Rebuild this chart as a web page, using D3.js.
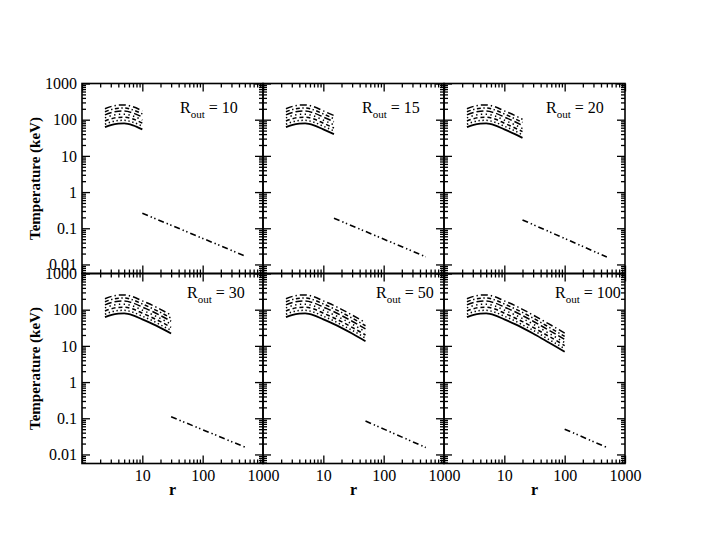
<!DOCTYPE html>
<html><head><meta charset="utf-8">
<script src="https://cdn.jsdelivr.net/npm/d3@7"></script>
<style>
body{margin:0;background:#fff}
svg{display:block;background:#fff}
text{font-family:"Liberation Serif","Times New Roman",serif;fill:#000}
</style>
</head><body>
<svg id="chart" width="708" height="547"></svg>
<script>
// ---------------- data ----------------
const radii   = [2.4, 3, 4, 5, 7, 10, 15, 20, 30, 50, 70, 100];
const series1 = [62, 71, 78, 79, 70, 54, 40, 31.5, 22, 13.5, 9.8, 6.9];
const series2 = [75, 86, 95, 96, 85, 66, 49, 38, 27, 16.4, 11.9, 8.4];
const series3 = [92, 105, 115, 117, 104, 80, 59, 47, 32.5, 20, 14.5, 10.2];
const series4 = [112, 128, 140, 142, 126, 97, 72, 57, 40, 24.3, 17.6, 12.4];
const series5 = [136, 155, 171, 173, 153, 118, 88, 69, 48, 29.6, 21.5, 15.1];
const series6 = [165, 189, 207, 210, 186, 144, 106, 84, 58.5, 36, 26, 18.4];
const series7 = [201, 230, 253, 256, 227, 175, 130, 102, 71, 44, 32, 22.4];
const routValues   = [10, 15, 20, 30, 50, 100];
const outerStartT  = [0.26, 0.19, 0.17, 0.11, 0.084, 0.050];
const outerEndR    = [500, 500, 500, 500, 500, 510];
const outerEndT    = [0.0172, 0.0162, 0.016, 0.016, 0.0155, 0.0154];
const xTickLabels  = ["10", "100", "1000"];
const yTickLabels  = ["1000", "100", "10", "1", "0.1", "0.01"];
const xMajor = [1, 10, 100, 1000];
const yMajor = [0.01, 0.1, 1, 10, 100, 1000];

// ---------------- layout / styles ----------------
const svg = d3.select("#chart");
const W = 181, H = 190, X0 = 82, Y0 = 83.5;
const xDomain = [1, 1000], yDomain = [Math.pow(10, -2.25), 1000];
const familyStyles = [
  {dash: null, w: 1.8},
  {dash: "1.4,2.6", w: 1.5},
  {dash: "4,3", w: 1.5},
  {dash: "1.4,3.4", w: 1.5},
  {dash: "7,3", w: 1.5},
  {dash: "4,2.5,1.4,2.5", w: 1.5},
  {dash: "7,3,1.4,3", w: 1.5}
];
const outerDash = "6,3,1.4,2.5,1.4,3";
const labelPos = [[98, 29.5], [99, 29.5], [102, 29.5], [105, 24.5], [113, 24.5], [111, 24.5]];
const family = [series1, series2, series3, series4, series5, series6, series7];

// minor tick values
function minorTicks(lo, hi) {
  const out = [];
  for (let e = Math.floor(Math.log10(lo)); e <= Math.ceil(Math.log10(hi)); e++) {
    for (let k = 2; k <= 9; k++) {
      const v = k * Math.pow(10, e);
      if (v > lo * 1.0001 && v < hi * 0.9999) out.push(v);
    }
  }
  return out;
}
const xMinor = minorTicks(xDomain[0], xDomain[1]);
const yMinor = minorTicks(yDomain[0], yDomain[1]);

routValues.forEach((rout, i) => {
  const col = i % 3, row = Math.floor(i / 3);
  const left = X0 + col * W, top = Y0 + row * H;
  const x = d3.scaleLog().domain(xDomain).range([left, left + W]);
  const y = d3.scaleLog().domain(yDomain).range([top + H, top]);
  const g = svg.append("g");

  const mk = (axisFn, scale, vals, size, fmt, pad) =>
    axisFn(scale).tickValues(vals).tickSizeInner(-size).tickSizeOuter(0)
      .tickPadding(pad || 0).tickFormat(fmt || (() => ""));
  const bottomFmt = row === 1 ? (d => { const s = String(d); return xTickLabels.includes(s) ? s : ""; }) : null;
  const leftFmt = col === 0 ? (d => { const s = d3.format("~g")(d); return yTickLabels.includes(s) ? s : ""; }) : null;

  const axes = [
    [d3.axisBottom, x, `translate(0,${top + H})`, bottomFmt, 6, true],
    [d3.axisTop, x, `translate(0,${top})`, null, 0, true],
    [d3.axisLeft, y, `translate(${left},0)`, leftFmt, 5, false],
    [d3.axisRight, y, `translate(${left + W},0)`, null, 0, false]
  ];
  axes.forEach(([fn, sc, tr, fmt, pad, isX]) => {
    const maj = g.append("g").attr("transform", tr)
      .call(mk(fn, sc, isX ? xMajor : yMajor, 8, fmt, pad));
    const mnr = g.append("g").attr("transform", tr)
      .call(mk(fn, sc, isX ? xMinor : yMinor, 4, null, 0));
    [maj, mnr].forEach(s => {
      s.select(".domain").remove();
      s.selectAll("line").attr("stroke", "#000").attr("stroke-width", 1.3);
      s.selectAll("text").style("font-size", "16px").style("font-family", '"Liberation Serif",serif').attr("fill", "#000");
    });
  });

  // frame
  g.append("rect").attr("x", left).attr("y", top).attr("width", W).attr("height", H)
    .attr("fill", "none").attr("stroke", "#000").attr("stroke-width", 1.6);

  // disc curves
  const line = d3.line().x(d => x(d[0])).y(d => y(d[1])).curve(d3.curveMonotoneX);
  family.forEach((ser, k) => {
    const pts = radii.map((r, j) => [r, ser[j]]).filter(d => d[0] <= rout);
    const st = familyStyles[k];
    g.append("path").attr("d", line(pts)).attr("fill", "none").attr("stroke", "#000")
      .attr("stroke-width", st.w).attr("stroke-dasharray", st.dash);
  });

  // outer line
  const outer = [[rout, outerStartT[i]], [outerEndR[i], outerEndT[i]]];
  g.append("path").attr("d", d3.line().x(d => x(d[0])).y(d => y(d[1]))(outer))
    .attr("fill", "none").attr("stroke", "#000").attr("stroke-width", 1.6)
    .attr("stroke-dasharray", outerDash);

  // R_out label
  const t = g.append("text").attr("x", left + labelPos[i][0]).attr("y", top + labelPos[i][1])
    .style("font-size", "16px");
  t.append("tspan").text("R");
  t.append("tspan").attr("dy", 5).style("font-size", "11px").text("out");
  t.append("tspan").attr("dy", -5).text(" = " + rout);

  // axis titles
  if (col === 0) {
    svg.append("text").attr("transform", `translate(40,${top + H / 2}) rotate(-90)`)
      .attr("text-anchor", "middle").style("font-size", "15px").style("font-weight", "bold")
      .text("Temperature (keV)");
  }
  if (row === 1) {
    svg.append("text").attr("x", left + W / 2).attr("y", 495).attr("text-anchor", "middle")
      .style("font-size", "16px").style("font-weight", "bold").text("r");
  }
});
</script>
</body></html>
